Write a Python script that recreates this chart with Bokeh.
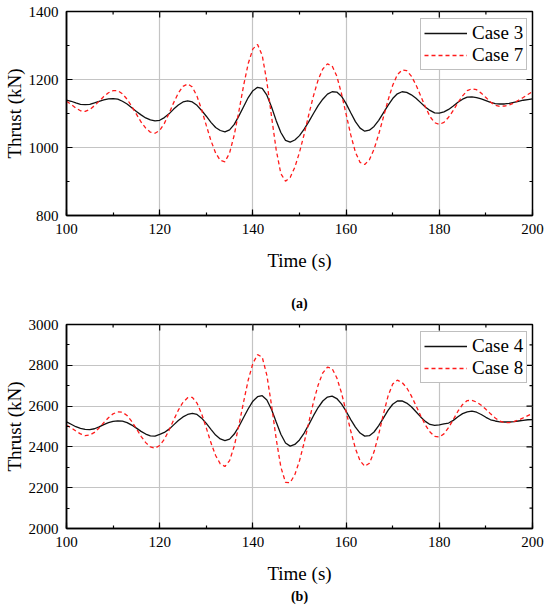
import math
from bokeh.plotting import figure
from bokeh.models import (Range1d, SingleIntervalTicker, Legend, LegendItem,
                          Title, ColumnDataSource)
from bokeh.layouts import column
from bokeh.embed import file_html
from bokeh.resources import INLINE

time_s = list(range(100, 201))

x_major_inner = [120, 140, 160, 180]
x_minor = [110, 130, 150, 170, 190]

ya_major_inner = [1000, 1200]
ya_minor = [900, 1100, 1300]
yb_major_inner = [2200, 2400, 2600, 2800]
yb_minor = [2100, 2300, 2500, 2700, 2900]

case3 = [1139, 1136, 1131, 1127, 1126, 1127, 1131, 1136, 1140, 1143,
         1144, 1142, 1136, 1128, 1117, 1106, 1096, 1087, 1081, 1078,
         1080, 1088, 1099, 1113, 1125, 1134, 1137, 1134, 1124, 1109,
         1092, 1074, 1059, 1050, 1046, 1052, 1068, 1093, 1120, 1147,
         1167, 1177, 1174, 1154, 1119, 1079, 1044, 1021, 1016, 1022,
         1035, 1054, 1076, 1100, 1123, 1142, 1157, 1164, 1163, 1151,
         1129, 1102, 1076, 1057, 1048, 1051, 1062, 1080, 1102, 1124,
         1144, 1158, 1164, 1162, 1155, 1145, 1132, 1119, 1109, 1102,
         1101, 1105, 1112, 1122, 1133, 1142, 1148, 1149, 1147, 1143,
         1138, 1133, 1129, 1128, 1128, 1130, 1133, 1136, 1139, 1141,
         1143]

case7 = [1136, 1127, 1116, 1108, 1106, 1112, 1123, 1136, 1150, 1161,
         1167, 1167, 1158, 1142, 1121, 1098, 1075, 1057, 1045, 1042,
         1050, 1071, 1100, 1132, 1160, 1180, 1187, 1178, 1151, 1111,
         1065, 1020, 984, 962, 958, 984, 1037, 1107, 1182, 1247,
         1290, 1303, 1271, 1193, 1091, 993, 923, 901, 912, 942,
         986, 1039, 1097, 1152, 1199, 1231, 1246, 1240, 1210, 1159,
         1098, 1037, 986, 956, 950, 964, 995, 1039, 1089, 1139,
         1183, 1214, 1228, 1226, 1210, 1184, 1152, 1120, 1091, 1073,
         1068, 1074, 1089, 1109, 1132, 1152, 1167, 1173, 1170, 1160,
         1147, 1134, 1124, 1121, 1122, 1125, 1131, 1139, 1147, 1156,
         1164]

case4 = [2523, 2511, 2499, 2491, 2486, 2485, 2489, 2498, 2509, 2519,
         2525, 2528, 2526, 2519, 2507, 2492, 2476, 2463, 2454, 2453,
         2461, 2471, 2487, 2508, 2529, 2547, 2559, 2564, 2559, 2541,
         2515, 2486, 2458, 2439, 2431, 2438, 2463, 2500, 2544, 2587,
         2624, 2646, 2651, 2630, 2583, 2522, 2462, 2419, 2404, 2412,
         2434, 2468, 2509, 2553, 2593, 2625, 2644, 2649, 2637, 2611,
         2575, 2534, 2497, 2468, 2453, 2455, 2473, 2504, 2541, 2579,
         2609, 2625, 2626, 2615, 2597, 2572, 2547, 2525, 2510, 2505,
         2508, 2513, 2517, 2530, 2548, 2563, 2572, 2575, 2570, 2559,
         2545, 2533, 2527, 2523, 2522, 2522, 2524, 2527, 2530, 2533,
         2534]

case8 = [2506, 2494, 2478, 2464, 2455, 2458, 2471, 2493, 2519, 2543,
         2562, 2572, 2570, 2554, 2525, 2489, 2452, 2421, 2400, 2394,
         2407, 2437, 2482, 2532, 2580, 2619, 2641, 2643, 2615, 2562,
         2493, 2420, 2358, 2317, 2304, 2333, 2404, 2506, 2620, 2728,
         2810, 2852, 2840, 2751, 2604, 2439, 2301, 2226, 2225, 2264,
         2332, 2421, 2521, 2620, 2703, 2763, 2791, 2784, 2739, 2666,
         2573, 2478, 2392, 2332, 2305, 2320, 2376, 2462, 2560, 2649,
         2708, 2727, 2716, 2690, 2650, 2602, 2553, 2508, 2473, 2452,
         2449, 2464, 2495, 2534, 2575, 2608, 2627, 2628, 2620, 2604,
         2584, 2562, 2542, 2526, 2519, 2519, 2524, 2532, 2542, 2553,
         2563]

FONT = "Liberation Serif"
TICK_MAJ = 6
TICK_MIN = 3


def make_panel(y0, y1, black, red, names, y_major_inner, y_minor,
               top, bottom, height, cap_above=None, cap_below=None,
               cap_above_standoff=10, cap_below_standoff=0):
    p = figure(width=548, height=height, x_range=Range1d(100, 200),
               y_range=Range1d(y0, y1), output_backend="svg",
               toolbar_location=None, title=None,
               min_border_left=66, min_border_right=16,
               min_border_top=top, min_border_bottom=bottom)
    xt = SingleIntervalTicker(interval=20, num_minor_ticks=2)
    yt = SingleIntervalTicker(interval=200, num_minor_ticks=2)
    p.xaxis.ticker = xt
    p.yaxis.ticker = yt
    p.xgrid.ticker = xt
    p.ygrid.ticker = yt
    for g in (p.xgrid[0], p.ygrid[0]):
        g.grid_line_color = "#c4c4c4"
        g.grid_line_width = 1.2

    for ax in (p.xaxis[0], p.yaxis[0]):
        ax.axis_line_color = "black"
        ax.axis_line_width = 1.5
        ax.major_tick_in = TICK_MAJ
        ax.major_tick_out = 0
        ax.minor_tick_in = TICK_MIN
        ax.minor_tick_out = 0
        ax.major_tick_line_color = "black"
        ax.minor_tick_line_color = "black"
        ax.major_tick_line_width = 1.2
        ax.minor_tick_line_width = 1.2
        ax.major_label_text_font = FONT
        ax.major_label_text_font_size = "15px"
        ax.major_label_text_color = "black"
        ax.major_label_standoff = 8
        ax.axis_label_text_font = FONT
        ax.axis_label_text_font_size = "19px"
        ax.axis_label_text_font_style = "normal"
        ax.axis_label_text_color = "black"
    p.yaxis.axis_label = "Thrust (kN)"
    p.yaxis.axis_label_standoff = 1
    p.xaxis.axis_label = "Time (s)"
    p.xaxis.axis_label_standoff = 13

    # inward ticks on the top and right sides of the frame
    p.ray(x=x_major_inner, y=[y1] * len(x_major_inner), length=TICK_MAJ,
          length_units="screen", angle=-math.pi / 2, line_color="black",
          line_width=1.2)
    p.ray(x=x_minor, y=[y1] * len(x_minor), length=TICK_MIN,
          length_units="screen", angle=-math.pi / 2, line_color="black",
          line_width=1.2)
    p.ray(x=[200] * len(y_major_inner), y=y_major_inner, length=TICK_MAJ,
          length_units="screen", angle=math.pi, line_color="black",
          line_width=1.2)
    p.ray(x=[200] * len(y_minor), y=y_minor, length=TICK_MIN,
          length_units="screen", angle=math.pi, line_color="black",
          line_width=1.2)

    p.outline_line_color = "black"
    p.outline_line_width = 1.5
    p.background_fill_color = "white"
    p.border_fill_color = "white"

    src = ColumnDataSource(dict(t=time_s, b=black, r=red))
    rb = p.line("t", "b", source=src, line_color="#111111", line_width=1.3)
    rr = p.line("t", "r", source=src, line_color="#ff1a1a", line_width=1.3,
                line_dash="4 3")
    leg = Legend(items=[LegendItem(label=names[0], renderers=[rb]),
                        LegendItem(label=names[1], renderers=[rr])],
                 location=(354, 145))
    leg.label_text_font = FONT
    leg.label_text_font_size = "19px"
    leg.label_text_color = "black"
    leg.glyph_width = 43
    leg.glyph_height = 22
    leg.label_height = 22
    leg.label_standoff = 5
    leg.padding = 3
    leg.spacing = 0
    leg.margin = 0
    leg.border_line_color = "#808080"
    leg.border_line_width = 1.5
    leg.background_fill_color = "white"
    leg.background_fill_alpha = 1.0
    p.add_layout(leg)

    if cap_above:
        p.add_layout(Title(text=cap_above, align="center", text_font=FONT,
                           text_font_size="14px", text_font_style="bold",
                           text_color="black", standoff=cap_above_standoff),
                     "above")
    if cap_below:
        p.add_layout(Title(text=cap_below, align="center", text_font=FONT,
                           text_font_size="14px", text_font_style="bold",
                           text_color="black", standoff=cap_below_standoff),
                     "below")
    return p


p1 = make_panel(800, 1400, case3, case7, ["Case 3", "Case 7"],
                ya_major_inner, ya_minor, 11, 60, 275)
p2 = make_panel(2000, 3000, case4, case8, ["Case 4", "Case 8"],
                yb_major_inner, yb_minor, 49, 79, 332,
                cap_above="(a)", cap_below="(b)",
                cap_above_standoff=27, cap_below_standoff=1)

layout = column(p1, p2)
open("out.html", "w").write(file_html(layout, INLINE))
